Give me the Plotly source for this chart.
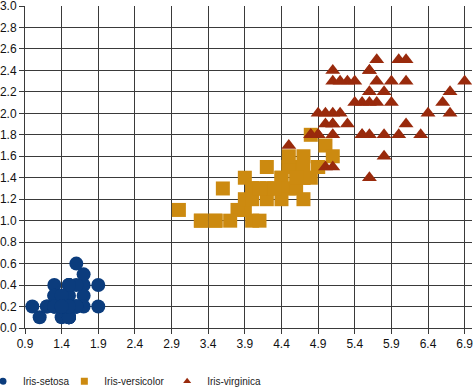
import plotly.graph_objects as go

setosa_len = [1.4,1.4,1.3,1.5,1.4,1.7,1.4,1.5,1.4,1.5,1.5,1.6,1.4,1.1,1.2,1.5,1.3,1.4,1.7,1.5,
              1.7,1.5,1.0,1.7,1.9,1.6,1.6,1.5,1.4,1.6,1.6,1.5,1.5,1.4,1.5,1.2,1.3,1.5,1.3,1.5,
              1.3,1.3,1.3,1.6,1.9,1.4,1.6,1.4,1.5,1.4]
setosa_wid = [0.2,0.2,0.2,0.2,0.2,0.4,0.3,0.2,0.2,0.1,0.2,0.2,0.1,0.1,0.2,0.4,0.4,0.3,0.3,0.3,
              0.2,0.4,0.2,0.5,0.2,0.2,0.4,0.2,0.2,0.2,0.2,0.4,0.1,0.2,0.1,0.2,0.2,0.1,0.2,0.2,
              0.3,0.3,0.2,0.6,0.4,0.3,0.2,0.2,0.2,0.2]
versicolor_len = [4.7,4.5,4.9,4.0,4.6,4.5,4.7,3.3,4.6,3.9,3.5,4.2,4.0,4.7,3.6,4.4,4.5,4.1,4.5,3.9,
                  4.8,4.0,4.9,4.7,4.3,4.4,4.8,5.0,4.5,3.5,3.8,3.7,3.9,5.1,4.5,4.5,4.7,4.4,4.1,4.0,
                  4.4,4.6,4.0,3.3,4.2,4.2,4.2,4.3,3.0,4.1]
versicolor_wid = [1.4,1.5,1.5,1.3,1.5,1.3,1.6,1.0,1.3,1.4,1.0,1.5,1.0,1.4,1.3,1.4,1.5,1.0,1.5,1.1,
                  1.8,1.3,1.5,1.2,1.3,1.4,1.4,1.7,1.5,1.0,1.1,1.0,1.2,1.6,1.5,1.6,1.5,1.3,1.3,1.3,
                  1.2,1.4,1.2,1.0,1.3,1.2,1.3,1.3,1.1,1.3]
virginica_len = [6.0,5.1,5.9,5.6,5.8,6.6,4.5,6.3,5.8,6.1,5.1,5.3,5.5,5.0,5.1,5.3,5.5,6.7,6.9,5.0,
                 5.7,4.9,6.7,4.9,5.7,6.0,4.8,4.9,5.6,5.8,6.1,6.4,5.6,5.1,5.6,6.1,5.6,5.5,4.8,5.4,
                 5.6,5.1,5.1,5.9,5.7,5.2,5.0,5.2,5.4,5.1]
virginica_wid = [2.5,1.9,2.1,1.8,2.2,2.1,1.7,1.8,1.8,2.5,2.0,1.9,2.1,2.0,2.4,2.3,1.8,2.2,2.3,1.5,
                 2.3,2.0,2.0,1.8,2.1,1.8,1.8,1.8,2.1,1.6,1.9,2.0,2.2,1.5,1.4,2.3,2.4,1.8,1.8,2.1,
                 2.4,2.3,1.9,2.3,2.5,2.3,1.9,2.0,2.3,1.8]

x_ticks = [0.9,1.4,1.9,2.4,2.9,3.4,3.9,4.4,4.9,5.4,5.9,6.4,6.9]
y_ticks = [0.0,0.2,0.4,0.6,0.8,1.0,1.2,1.4,1.6,1.8,2.0,2.2,2.4,2.6,2.8,3.0]

series = [
    ("Iris-setosa", setosa_len, setosa_wid, "circle", 14, "#0B3C7D", "legend", -0.094),
    ("Iris-versicolor", versicolor_len, versicolor_wid, "square", 14, "#CC8A10", "legend2", 0.088),
    ("Iris-virginica", virginica_len, virginica_wid, "triangle-up", 13, "#992A0C", "legend3", 0.318),
]

fig = go.Figure()
for name, xs, ys, sym, sz, col, lg, lx in series:
    fig.add_trace(go.Scatter(x=xs, y=ys, mode="markers", name=name, showlegend=False,
                             legendgroup=name,
                             marker=dict(symbol=sym, size=sz, color=col, line=dict(width=0))))
for name, xs, ys, sym, sz, col, lg, lx in series:
    fig.add_trace(go.Scatter(x=[None], y=[None], mode="markers", name=name, showlegend=True,
                             legendgroup=name, legend=lg,
                             marker=dict(symbol=sym, size=7, color=col, line=dict(width=0))))

axis_common = dict(type="linear", showgrid=True, gridcolor="#3a3a3a", gridwidth=1, showline=True,
                   linecolor="#3a3a3a", linewidth=1, ticks="outside", ticklen=5,
                   tickcolor="#3a3a3a", zeroline=False, automargin=False,
                   ticklabeloverflow="allow",
                   tickfont=dict(family="Liberation Sans, Arial, sans-serif", size=12, color="#111"))

fig.update_xaxes(range=[0.9, 7.0], tickvals=x_ticks, ticktext=[f"{v:.1f}" for v in x_ticks],
                 **axis_common)
fig.update_yaxes(range=[0.0, 3.0], tickvals=y_ticks, ticktext=[f"{v:.1f}" for v in y_ticks],
                 **axis_common)

legend_font = dict(family="Liberation Sans, Arial, sans-serif", size=10, color="#222")
legends = {}
for name, xs, ys, sym, sz, col, lg, lx in series:
    legends[lg] = dict(orientation="h", x=lx, xanchor="left", y=-0.165, yanchor="middle",
                       font=legend_font, itemsizing="trace", itemwidth=30,
                       bgcolor="rgba(0,0,0,0)")

fig.update_layout(
    width=474, height=387,
    margin=dict(l=25, r=2, t=6, b=59, autoexpand=False),
    plot_bgcolor="white", paper_bgcolor="white",
    showlegend=True,
    **legends,
)

fig.write_html("out.html", config={"displayModeBar": False},
               post_script="document.body.style.margin='0';")
